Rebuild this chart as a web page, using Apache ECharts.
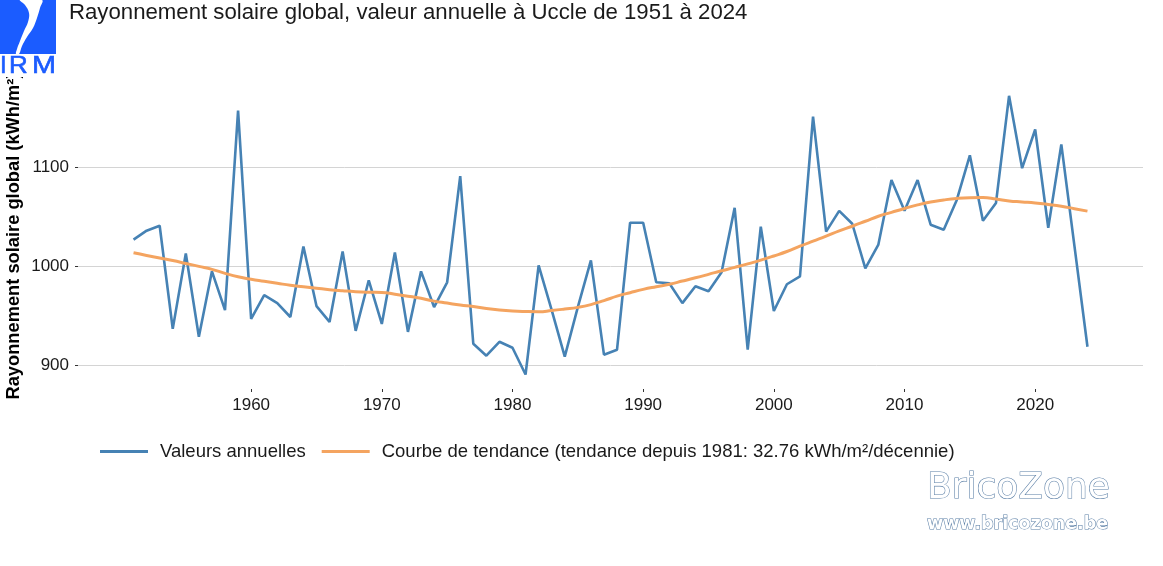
<!DOCTYPE html>
<html>
<head>
    <meta charset="utf-8">
    <script src="https://cdn.jsdelivr.net/npm/echarts@6/dist/echarts.min.js"></script>
    <style>
        html, body { margin: 0; padding: 0; background: #fff; }
    </style>
</head>
<body>
    <div id="main" style="width: 1163px;height:566px;"></div>
    <script type="text/javascript">
        var years = [];
        for (var y = 1951; y <= 2024; y++) years.push(y);

        var annualValues = [
            1027, 1036, 1041, 937, 1013, 929, 995, 956, 1157, 947,
            971, 963, 949, 1020, 960, 944, 1015, 935, 986, 942,
            1014, 934, 995, 959, 984, 1091, 922, 910, 924, 918,
            891, 1001, 956, 909, 959, 1006, 911, 916, 1044, 1044,
            984, 983, 963, 980, 975, 994, 1059, 916, 1040, 955,
            982, 990, 1151, 1035, 1056, 1043, 998, 1022, 1087, 1056,
            1087, 1042, 1037, 1067, 1112, 1046, 1064, 1172, 1099, 1138,
            1039, 1123, 1021, 919
        ];

        var trendValues = [
            1013.7, 1011, 1008.5, 1006, 1003, 1000, 997, 993, 989.5, 987,
            985, 983, 981, 979.5, 978, 976.5, 975.4, 974.5, 974, 973.8,
            972, 970, 967.8, 965, 963, 961, 959.5, 957.5, 956, 955,
            954.5, 954.3, 955.5, 957, 958.7, 961.5, 965.5, 970, 973.5, 976.8,
            979.5, 982, 985.2, 988.5, 992, 995.6, 999, 1002.5, 1006.3, 1010.5,
            1015, 1020.4, 1025.5, 1030.5, 1035.8, 1040.5, 1045.5, 1050.6, 1054.5, 1058.4,
            1062, 1065, 1067, 1068.5, 1069.3, 1069.5, 1068, 1066, 1065, 1064,
            1062.5, 1060.7, 1058.2, 1055.7
        ];

        var xTicks = [1960, 1970, 1980, 1990, 2000, 2010, 2020];
        var yTicks = [900, 1000, 1100];

        var seriesNames = ['Valeurs annuelles', 'Courbe de tendance (tendance depuis 1981: 32.76 kWh/m²/décennie)'];

        function pairs(vals) {
            return years.map(function (yr, i) { return [yr, vals[i]]; });
        }

        var myChart = echarts.init(document.getElementById('main'));
        var font = 'Liberation Sans, Arial, sans-serif';
        var blue = '#1b5cff';
        var outline = '#5b7fa6';

        myChart.setOption({
            animation: false,
            textStyle: { fontFamily: font },
            grid: { left: 78, right: 20, top: 82, bottom: 177 },
            legend: {
                left: 100,
                top: 442,
                padding: 0,
                itemWidth: 48,
                itemHeight: 3,
                itemGap: 16,
                icon: 'rect',
                data: seriesNames,
                formatter: function (n) { return '{t|' + n + '}'; },
                textStyle: {
                    color: '#1a1a1a',
                    rich: { t: { fontSize: 18.5, fontFamily: font, color: '#1a1a1a', padding: [0, 0, 0, 7] } }
                }
            },
            xAxis: {
                type: 'value',
                min: 1946.75,
                max: 2028.25,
                axisLine: { show: false },
                axisTick: { show: true, length: 3, customValues: xTicks, lineStyle: { color: '#333' } },
                axisLabel: { customValues: xTicks, fontSize: 17, color: '#1a1a1a', margin: 8, formatter: function (v) { return String(v); } },
                splitLine: { show: false }
            },
            yAxis: {
                type: 'value',
                min: 876.4,
                max: 1185.9,
                axisLine: { show: false },
                axisTick: { show: true, length: 3, customValues: yTicks, lineStyle: { color: '#333' } },
                axisLabel: { customValues: yTicks, fontSize: 17, color: '#1a1a1a', margin: 9, formatter: function (v) { return String(v); } },
                splitLine: { show: true, lineStyle: { color: '#d4d4d4', width: 1 } }
            },
            series: [
                {
                    name: seriesNames[0],
                    type: 'line',
                    data: pairs(annualValues),
                    showSymbol: false,
                    color: '#4682b4',
                    lineStyle: { width: 2.6, color: '#4682b4' },
                    z: 3
                },
                {
                    name: seriesNames[1],
                    type: 'line',
                    data: pairs(trendValues),
                    showSymbol: false,
                    smooth: true,
                    color: '#f4a460',
                    lineStyle: { width: 3, color: '#f4a460' },
                    z: 4
                }
            ],
            graphic: [
                {
                    type: 'text', left: 69, top: 2,
                    style: { text: 'Rayonnement solaire global, valeur annuelle à Uccle de 1951 à 2024', font: '22.2px ' + font, fill: '#1a1a1a' }
                },
                {
                    type: 'text', x: 14, y: 236, rotation: Math.PI / 2,
                    style: { text: 'Rayonnement solaire global (kWh/m²)', font: 'bold 18.3px ' + font, fill: '#000', align: 'center', verticalAlign: 'middle' }
                },
                // logo IRM (fond blanc par-dessus le titre d'axe)
                { type: 'rect', shape: { x: 0, y: 0, width: 58, height: 77 }, style: { fill: '#fff' }, z: 9 },
                { type: 'rect', shape: { x: 0, y: 0, width: 56, height: 54 }, style: { fill: blue }, z: 10 },
                {
                    type: 'polygon', z: 11,
                    shape: {
                        smooth: 0.4,
                        points: [[20, 0], [25, 5], [29, 13], [28, 22], [24, 31], [20, 41], [17, 49], [16, 54],
                            [19, 54], [22, 46], [27, 37], [33, 28], [37, 18], [40, 8], [42, 0]]
                    },
                    style: { fill: '#fff' }
                },
                { type: 'text', x: 0, y: 78, z: 11, style: { text: 'I', font: '24px ' + font, fill: blue, stroke: blue, lineWidth: 0.6, verticalAlign: 'bottom' } },
                { type: 'text', x: 9, y: 78, z: 11, scaleX: 1.08, style: { text: 'R', font: '24px ' + font, fill: blue, stroke: blue, lineWidth: 0.6, verticalAlign: 'bottom' } },
                { type: 'text', x: 32, y: 78, z: 11, scaleX: 1.2, style: { text: 'M', font: '24px ' + font, fill: blue, stroke: blue, lineWidth: 0.6, verticalAlign: 'bottom' } },
                // filigrane BricoZone
                {
                    type: 'text', x: 927, y: 471,
                    style: { text: 'BricoZone', font: '36px DejaVu Sans', fill: '#fff', stroke: outline, lineWidth: 1.1 }
                },
                {
                    type: 'text', x: 927, y: 515,
                    style: { text: 'www.bricozone.be', font: 'bold 17.5px DejaVu Sans', fill: '#fff', stroke: outline, lineWidth: 1.1 }
                }
            ]
        });
    </script>
</body>
</html>
